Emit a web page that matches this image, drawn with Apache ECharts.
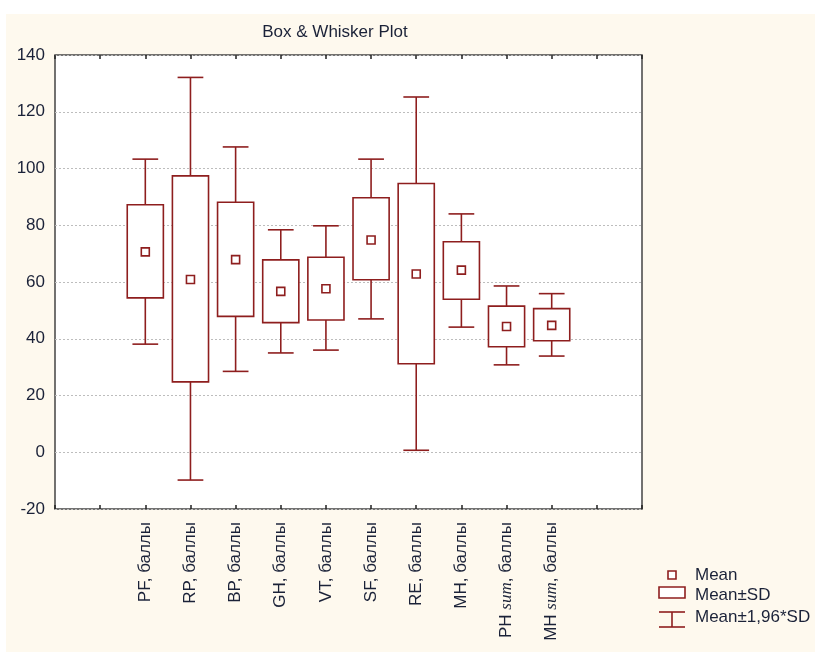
<!DOCTYPE html>
<html>
<head>
<meta charset="utf-8">
<script src="https://cdn.jsdelivr.net/npm/echarts@6/dist/echarts.min.js"></script>
<style>html,body{margin:0;padding:0;background:#fff}#c{width:815px;height:652px}</style>
</head>
<body>
<div id="c"></div>
<script>
// Data
const categories = ['PF, баллы', 'RP, баллы', 'BP, баллы', 'GH, баллы', 'VT, баллы', 'SF, баллы', 'RE, баллы', 'MH, баллы', 'PH sum, баллы', 'MH sum, баллы'];
const means  = [70.6, 60.9, 67.9, 56.7, 57.6, 74.8, 62.8, 64.2, 44.3, 44.7];
const sdLow  = [54.4, 24.8, 47.9, 45.7, 46.6, 60.8, 31.2, 53.9, 37.2, 39.3];
const sdHigh = [87.2, 97.4, 88.1, 67.8, 68.7, 89.7, 94.7, 74.2, 51.5, 50.6];
const ciLow  = [38.1, -9.8, 28.5, 35.0, 36.0, 47.0, 0.7, 44.1, 30.8, 33.9];
const ciHigh = [103.3, 132.1, 107.6, 78.4, 79.8, 103.3, 125.2, 84.0, 58.6, 55.9];
const yTicks = [-20, 0, 20, 40, 60, 80, 100, 120, 140];

const OFFSET = 2; // first category sits on the 2nd tick of the x scale
const COL = '#8e1e1e';
const TXT = '#1b2238';
const FONT = 'Liberation Sans, Arial, sans-serif';

const data = categories.map((c, i) => [i + OFFSET, means[i], sdLow[i], sdHigh[i], ciLow[i], ciHigh[i]]);

function renderItem(params, api) {
  const xv = api.value(0);
  const unit = api.size([1, 0])[0];
  const bw = unit * 0.8, cw = unit * 0.57, ms = 8;
  const pM = api.coord([xv, api.value(1)]);
  const pSL = api.coord([xv, api.value(2)]);
  const pSH = api.coord([xv, api.value(3)]);
  const pL = api.coord([xv, api.value(4)]);
  const pH = api.coord([xv, api.value(5)]);
  const x = pM[0];
  const st = { stroke: COL, lineWidth: 1.6, fill: null };
  return {
    type: 'group',
    children: [
      { type: 'line', shape: { x1: x, y1: pH[1], x2: x, y2: pSH[1] }, style: st },
      { type: 'line', shape: { x1: x, y1: pSL[1], x2: x, y2: pL[1] }, style: st },
      { type: 'line', shape: { x1: x - cw / 2, y1: pH[1], x2: x + cw / 2, y2: pH[1] }, style: st },
      { type: 'line', shape: { x1: x - cw / 2, y1: pL[1], x2: x + cw / 2, y2: pL[1] }, style: st },
      { type: 'rect', shape: { x: x - bw / 2, y: pSH[1], width: bw, height: pSL[1] - pSH[1] }, style: { stroke: COL, lineWidth: 1.6, fill: '#fff' } },
      { type: 'rect', shape: { x: x - ms / 2, y: pM[1] - ms / 2, width: ms, height: ms }, style: { stroke: COL, lineWidth: 1.6, fill: '#fff' } }
    ]
  };
}

const chart = echarts.init(document.getElementById('c'), null, { renderer: 'canvas' });
const legendX = 659, legendTextX = 695;
chart.setOption({
  backgroundColor: '#fef9ee',
  animation: false,
  textStyle: { fontFamily: FONT },
  grid: { left: 55, top: 55, right: 173, bottom: 143, show: true, backgroundColor: '#ffffff', borderColor: '#444', borderWidth: 1.5 },
  xAxis: [
    {
      type: 'value', min: 0, max: categories.length + 3, interval: 1, position: 'bottom',
      axisLine: { show: false, onZero: false },
      axisTick: { show: true, inside: true, length: 4, lineStyle: { color: '#222', width: 1.5 } },
      splitLine: { show: false },
      axisLabel: {
        rotate: 90, margin: 13, fontSize: 17, color: TXT, fontFamily: FONT,
        formatter: v => {
          const c = categories[v - OFFSET];
          return c ? c.replace(' sum,', ' {i|sum},') : '';
        },
        rich: { i: { fontFamily: 'Liberation Serif, Times New Roman, serif', fontStyle: 'italic', fontSize: 17, color: TXT } }
      }
    },
    {
      type: 'value', min: 0, max: categories.length + 3, interval: 1, position: 'top',
      axisLine: { show: false, onZero: false },
      axisTick: { show: true, inside: true, length: 4, lineStyle: { color: '#222', width: 1.5 } },
      splitLine: { show: false },
      axisLabel: { show: false }
    }
  ],
  yAxis: {
    type: 'value', min: yTicks[0], max: yTicks[yTicks.length - 1], interval: yTicks[1] - yTicks[0],
    axisLine: { show: false },
    axisTick: { show: false },
    splitLine: { show: true, lineStyle: { color: '#bdbdbd', type: [2, 2], width: 1 } },
    axisLabel: { fontSize: 17, color: TXT, margin: 10, fontFamily: FONT }
  },
  series: [{
    type: 'custom',
    renderItem: renderItem,
    encode: { x: 0, y: [1, 2, 3, 4, 5] },
    data: data,
    z: 5
  }],
  graphic: [
    { type: 'rect', shape: { x: 0, y: 0, width: 815, height: 14 }, style: { fill: '#fff' }, silent: true },
    { type: 'rect', shape: { x: 0, y: 0, width: 6, height: 652 }, style: { fill: '#fff' }, silent: true },
    { type: 'text', x: 335, y: 32, style: { text: 'Box & Whisker Plot', fontSize: 17, fontFamily: FONT, fill: TXT, textAlign: 'center', textVerticalAlign: 'middle' } },
    // legend
    { type: 'rect', shape: { x: 668, y: 571, width: 8, height: 8 }, style: { stroke: COL, lineWidth: 1.6, fill: '#fff' } },
    { type: 'text', x: legendTextX, y: 575, style: { text: 'Mean', fontSize: 17, fontFamily: FONT, fill: TXT, textVerticalAlign: 'middle' } },
    { type: 'rect', shape: { x: legendX, y: 587, width: 26, height: 11 }, style: { stroke: COL, lineWidth: 1.6, fill: '#fff' } },
    { type: 'text', x: legendTextX, y: 595, style: { text: 'Mean±SD', fontSize: 17, fontFamily: FONT, fill: TXT, textVerticalAlign: 'middle' } },
    { type: 'line', shape: { x1: legendX, y1: 612, x2: legendX + 26, y2: 612 }, style: { stroke: COL, lineWidth: 1.6 } },
    { type: 'line', shape: { x1: legendX + 13, y1: 612, x2: legendX + 13, y2: 627 }, style: { stroke: COL, lineWidth: 1.6 } },
    { type: 'line', shape: { x1: legendX, y1: 627, x2: legendX + 26, y2: 627 }, style: { stroke: COL, lineWidth: 1.6 } },
    { type: 'text', x: legendTextX, y: 617, style: { text: 'Mean±1,96*SD', fontSize: 17, fontFamily: FONT, fill: TXT, textVerticalAlign: 'middle' } }
  ]
});
</script>
</body>
</html>
